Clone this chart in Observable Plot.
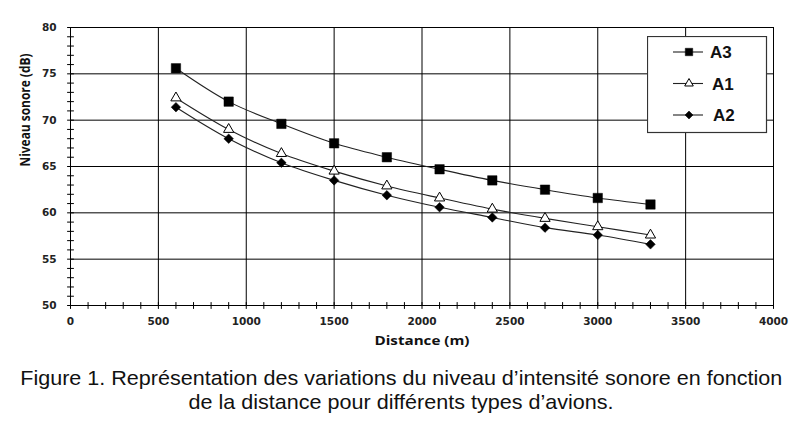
<!DOCTYPE html>
<html>
<head>
<meta charset="utf-8">
<script src="https://cdn.jsdelivr.net/npm/d3@7"></script>
<script src="https://cdn.jsdelivr.net/npm/@observablehq/plot@0.6"></script>
<style>
  html, body { margin: 0; padding: 0; background: #fff; }
  #wrap { position: relative; width: 800px; height: 421px; overflow: hidden; }
  #caption {
    position: absolute; left: 0; top: 365.5px; width: 800px; padding-left: 3px; box-sizing: border-box;
    text-align: center; font-family: "Liberation Sans", Arial, Helvetica, sans-serif;
    font-size: 21px; line-height: 24px; color: #111;
  }
  #caption .ln { display: block; white-space: nowrap; }
  #caption .ln span { display: inline-block; transform-origin: 50% 50%; }
  #legend { position: absolute; left: 647px; top: 36px; }
</style>
</head>
<body>
<div id="wrap">
  <div id="chart"></div>
  <div id="legend"></div>
  <div id="caption">
    <div class="ln"><span id="cap1">Figure 1. Représentation des variations du niveau d’intensité sonore en fonction</span></div>
    <div class="ln"><span id="cap2">de la distance pour différents types d’avions.</span></div>
  </div>
</div>
<script>
// ---- data ----
const distances = [600, 900, 1200, 1500, 1800, 2100, 2400, 2700, 3000, 3300];
const seriesNames = ["A3", "A1", "A2"];
const valuesA3 = [75.6, 72.0, 69.6, 67.5, 66.0, 64.7, 63.5, 62.5, 61.6, 60.9];
const valuesA1 = [72.4, 69.0, 66.4, 64.5, 62.9, 61.6, 60.4, 59.4, 58.5, 57.6];
const valuesA2 = [71.4, 68.0, 65.4, 63.5, 61.9, 60.6, 59.5, 58.4, 57.6, 56.6];
const xTicks = [0, 500, 1000, 1500, 2000, 2500, 3000, 3500, 4000];
const yTicks = [50, 55, 60, 65, 70, 75, 80];
const xMinorTicks = d3.range(0, 4001, 100);
const yMinorTicks = d3.range(50, 81, 1);
const xDomain = [0, 4000];
const yDomain = [50, 80];
const xTitle = "Distance (m)";
const yTitle = "Niveau sonore (dB)";

const seriesValues = {A3: valuesA3, A1: valuesA1, A2: valuesA2};
const rows = seriesNames.flatMap(s => distances.map((d, i) => ({series: s, distance: d, level: seriesValues[s][i]})));

const symbolOf = {A3: "square", A1: "triangle", A2: "diamond2"};
const sizeOf = {A3: 5.3, A1: 3.8, A2: 4.3};
const fillOf = {A3: "#000", A1: "#fff", A2: "#000"};

const tickLine = {draw(context, l) { context.moveTo(0, 0); context.lineTo(0, -l); }};
const tickFont = "'DejaVu Sans', Verdana, sans-serif";

const chart = Plot.plot({
  width: 800,
  height: 360,
  marginLeft: 70,
  marginRight: 27,
  marginTop: 27,
  marginBottom: 55,
  style: {background: "#fff", color: "#111", fontFamily: tickFont},
  x: {domain: xDomain, label: null},
  y: {domain: yDomain, label: null},
  marks: [
    Plot.gridX(xTicks, {stroke: "#000", strokeOpacity: 1, strokeWidth: 1}),
    Plot.gridY(yTicks, {stroke: "#000", strokeOpacity: 1, strokeWidth: 1}),
    Plot.frame({stroke: "#000", strokeWidth: 1}),
    Plot.vector(xMinorTicks, {x: d => d, frameAnchor: "bottom", length: 6, anchor: "middle", rotate: 0, shape: tickLine, stroke: "#000", strokeWidth: 1}),
    Plot.vector(yMinorTicks, {y: d => d, frameAnchor: "left", length: 6, anchor: "middle", rotate: 90, shape: tickLine, stroke: "#000", strokeWidth: 1}),
    Plot.axisX(xTicks, {tickSize: 0, tickPadding: 12, tickFormat: "d", fontSize: 10.5, fontWeight: "bold", fill: "#222", label: null}),
    Plot.axisY(yTicks, {tickSize: 0, tickPadding: 14, tickFormat: "d", fontSize: 10.5, fontWeight: "bold", fill: "#222", label: null}),
    Plot.text([xTitle], {frameAnchor: "bottom", dy: 39, text: d => d, fontSize: 13, fontWeight: "bold", fontFamily: "'Open Sans', sans-serif", fill: "#111"}),
    Plot.text([yTitle], {frameAnchor: "left", dx: -45, rotate: -90, text: d => d, fontSize: 14.5, fontWeight: "bold", fontFamily: "'Open Sans', sans-serif", fill: "#111"}),
    Plot.line(rows, {x: "distance", y: "level", z: "series", stroke: "#222", strokeWidth: 1.1, curve: "catmull-rom"}),
    ...seriesNames.map(s => Plot.dot(rows.filter(r => r.series === s), {
      x: "distance", y: "level", symbol: () => symbolOf[s], r: sizeOf[s],
      fill: fillOf[s], stroke: "#000", strokeWidth: s === "A1" ? 1 : 0.5
    }))
  ]
});
document.getElementById("chart").appendChild(chart);

// condense axis titles to the reference widths
d3.select(chart).selectAll("text").filter(function() { return this.textContent === xTitle; })
  .attr("textLength", 95).attr("lengthAdjust", "spacingAndGlyphs");
d3.select(chart).selectAll("text").filter(function() { return this.textContent === yTitle; })
  .attr("textLength", 113).attr("lengthAdjust", "spacingAndGlyphs");

// ---- legend ----
const leg = d3.select("#legend").append("svg").attr("width", 122).attr("height", 98);
leg.append("rect").attr("x", 0.5).attr("y", 0.5).attr("width", 119).attr("height", 96)
  .attr("fill", "#fff").attr("stroke", "#333").attr("stroke-width", 1.2);
const legSym = {square: d3.symbolSquare, triangle: d3.symbolTriangle, diamond2: d3.symbolDiamond2};
const legSize = {A3: 4.2, A1: 3.2, A2: 3.6};
seriesNames.forEach((s, i) => {
  const cy = 16 + i * 31.5;
  const g = leg.append("g");
  g.append("line").attr("x1", 26).attr("x2", 56).attr("y1", cy).attr("y2", cy).attr("stroke", "#222").attr("stroke-width", 1.1);
  g.append("path").attr("transform", `translate(42,${cy})`)
    .attr("d", d3.symbol(legSym[symbolOf[s]], Math.PI * legSize[s] ** 2)())
    .attr("fill", fillOf[s]).attr("stroke", "#000").attr("stroke-width", s === "A1" ? 1 : 0.5);
  g.append("text").attr("x", i === 2 ? 66 : (i === 1 ? 65 : 63)).attr("y", cy).attr("dy", "0.36em")
    .attr("font-family", "'Liberation Sans', Arial, sans-serif").attr("font-weight", "bold")
    .attr("font-size", 17).attr("fill", "#111").text(s);
});

// ---- caption: fit line 1 to the reference width ----
const cap1 = document.getElementById("cap1");
const cap2 = document.getElementById("cap2");
const w1 = cap1.getBoundingClientRect().width;
const k = 762 / w1;
cap1.style.transform = `scaleX(${k})`;
cap2.style.transform = `scaleX(${k})`;
</script>
</body>
</html>
